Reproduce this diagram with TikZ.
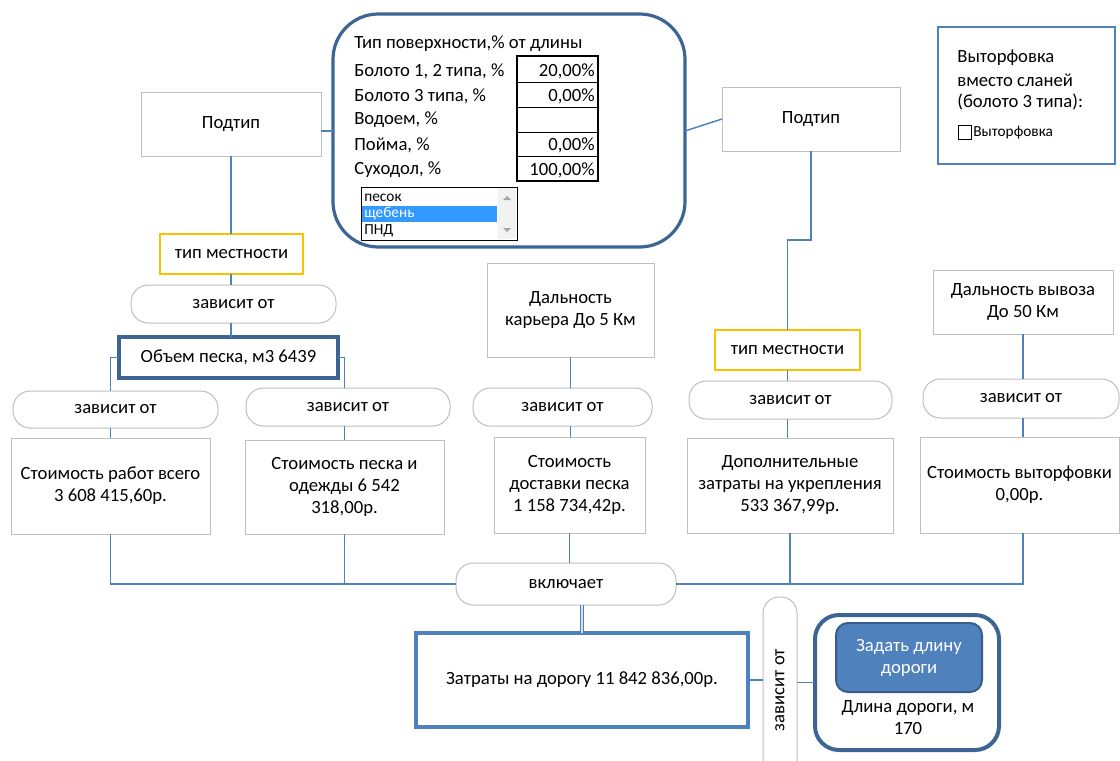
\documentclass[tikz,border=0pt]{standalone}
\usepackage{fontspec}
\setmainfont{Carlito}
\usetikzlibrary{calc}
\definecolor{connc}{HTML}{4F81BD}
\definecolor{dkblue}{HTML}{3D6594}
\definecolor{midblue}{HTML}{4F81BD}
\definecolor{gborder}{HTML}{BFBFBF}
\definecolor{yel}{HTML}{FFC000}
\definecolor{selblue}{HTML}{3399FF}
\definecolor{btnborder}{HTML}{385D8A}
\newcommand\pbox[7]{\node[#6,minimum width={(#4-#2)*0.75pt},minimum height={(#5-#3)*0.75pt}] (#1) at ({(#2+#4)/2},{(#3+#5)/2}) {#7};}
\begin{document}
\begin{tikzpicture}[x=0.75pt,y=-0.75pt,
  font=\fontsize{14}{16.5}\selectfont,
  every node/.style={inner sep=1pt,outer sep=0pt,align=center},
  gbox/.style={draw=gborder,line width=0.75pt,fill=white},
  pill/.style={draw=gborder,line width=0.75pt,fill=white,rounded corners=13pt},
  ybox/.style={draw=yel,line width=1.6pt,fill=white},
  cn/.style={draw=connc,line width=1.1pt},
  small/.style={font=\fontsize{11.5}{13}\selectfont},
  lbl/.style={anchor=west},
  val/.style={anchor=east}]
\useasboundingbox (0,0) rectangle (1120,760);

% big surface-type box
\pbox{big}{333}{14}{685}{247}{draw=dkblue,line width=2.4pt,fill=white,rounded corners=34pt}{}
\node[lbl] (t0) at (353,44) {Тип поверхности,\% от длины};
\node[lbl] (t1) at (353,71) {Болото 1, 2 типа, \%};
\node[lbl] (t2) at (353,96) {Болото 3 типа, \%};
\node[lbl] (t3) at (353,120) {Водоем, \%};
\node[lbl] (t4) at (353,145) {Пойма, \%};
\node[lbl] (t5) at (353,170) {Суходол, \%};
\draw[line width=0.75pt] (517,82) -- (598,82) (517,107) -- (598,107) (517,132) -- (598,132) (517,156) -- (598,156);
\draw[line width=1.5pt] (517,56) rectangle (598,181);
\node[val] (v1) at (596,71) {20,00\%};
\node[val] (v2) at (596,96) {0,00\%};
\node[val] (v4) at (596,145) {0,00\%};
\node[val] (v5) at (596,170) {100,00\%};
% listbox
\draw[line width=0.75pt,fill=white] (361,187) rectangle (517,240);
\fill[selblue] (362,206) rectangle (497,222);
\fill[gray!10] (498,188) rectangle (516,239);
\fill[gray!70] (503,200) -- (511,200) -- (507,196) -- cycle;
\fill[gray!70] (503,228) -- (511,228) -- (507,232) -- cycle;
\node[lbl,small] (li1) at (363,198) {песок};
\node[lbl,small,text=white] (li2) at (363,214) {щебень};
\node[lbl,small] (li3) at (363,231) {ПНД};

% right info box
\pbox{vbox}{938}{27}{1115}{164}{draw=midblue,line width=2.2pt,fill=white}{}
\node[lbl] (vt1) at (956,58) {Выторфовка};
\node[lbl] (vt2) at (956,80) {вместо сланей};
\node[lbl] (vt3) at (956,102) {(болото 3 типа):};
\draw[line width=0.6pt,fill=white] (958,125) rectangle (971,139);
\node[lbl,small] (cbl) at (972,132.5) {Выторфовка};

% left branch
\pbox{podL}{141}{92}{321}{156}{gbox}{Подтип}
\pbox{tipL}{160}{234}{303}{274}{ybox}{тип местности}
\pbox{p1}{131}{285}{336}{323}{pill}{зависит от}
\pbox{obem}{119}{337}{338}{378}{draw=dkblue,line width=2.4pt,fill=white}{Объем песка, м3 6439}
\pbox{pL}{13}{391}{218}{428}{pill}{зависит от}
\pbox{pR}{246}{388}{450}{426}{pill}{зависит от}
\pbox{bL}{11}{438}{210}{534}{gbox}{Стоимость работ всего\\3 608 415,60р.}
\pbox{bR}{245}{440}{444}{534}{gbox}{Стоимость песка и\\одежды 6 542\\318,00р.}

% middle
\pbox{dk}{487}{263}{654}{357}{gbox}{Дальность\\карьера До 5 Км}
\pbox{pK}{473}{388}{652}{426}{pill}{зависит от}
\pbox{dost}{494}{437}{645}{533}{gbox}{Стоимость\\доставки песка\\1 158 734,42р.}

% right branch
\pbox{podR}{722}{87}{900}{151}{gbox}{Подтип}
\pbox{tipR}{715}{330}{860}{370}{ybox}{тип местности}
\pbox{pD}{689}{381}{892}{419}{pill}{зависит от}
\pbox{dop}{687}{438}{893}{533}{gbox}{Дополнительные\\затраты на укрепления\\533 367,99р.}
\pbox{dv}{933}{270}{1113}{334}{gbox}{Дальность вывоза\\До 50 Км}
\pbox{pV}{923}{379}{1119}{418}{pill}{зависит от}
\pbox{vyt}{920}{437}{1119}{533}{gbox}{Стоимость выторфовки\\0,00р.}

% bottom
\pbox{vk}{456}{563}{676}{605}{pill}{включает}
\pbox{zat}{416}{633}{748}{727}{draw=midblue,line width=2.3pt,fill=white}{Затраты на дорогу 11 842 836,00р.}
\node[pill,rotate=90,rounded corners=12pt,minimum width={186*0.75pt},minimum height={34*0.75pt}] (vp) at (780,690) {зависит от};
\pbox{dl}{815}{615}{999}{750}{draw=dkblue,line width=3pt,fill=white,rounded corners=18pt}{}
\pbox{btn}{836}{623}{982}{692}{draw=btnborder,line width=1.5pt,fill=midblue,rounded corners=9pt,text=white}{Задать длину\\дороги}
\node (dltext) at (908,718) {Длина дороги, м\\170};

% connectors
\coordinate (bend) at (800,240);
\draw[cn] (podL.south) -- (podL.south |- tipL.north);
\draw[cn] (podL.south |- tipL.south) -- (podL.south |- p1.north);
\draw[cn] (podL.south |- p1.south) -- (podL.south |- obem.north);
\draw[cn] (obem.west) -| (bL.north |- pL.north);
\draw[cn] (pL.south -| bL.north) -- (bL.north);
\draw[cn] (obem.east) -| (bR.north |- pR.north);
\draw[cn] (pR.south -| bR.north) -- (bR.north);
\draw[cn] (bL.south) |- (vk.west);
\draw[cn] (bR.south) -- (bR.south |- vk.west);
\draw[cn] (dk.south) -- (dk.south |- pK.north);
\draw[cn] (dk.south |- pK.south) -- (dk.south |- dost.north);
\draw[cn] (dost.south) -- (dost.south |- vk.north);
\draw[cn] (podR.south) |- (bend) -| (tipR.north);
\draw[cn] (tipR.south) -- (tipR.south |- pD.north);
\draw[cn] (tipR.south |- pD.south) -- (tipR.south |- dop.north);
\draw[cn] (dop.south) -- (dop.south |- vk.east);
\draw[cn] (dv.south) -- (dv.south |- pV.north);
\draw[cn] (dv.south |- pV.south) -- (dv.south |- vyt.north);
\draw[cn] (vk.east) -| (dv.south |- vyt.south);
\draw[cn] (big.west |- 0,131) -- (podL.east |- 0,131);
\draw[cn] (big.east |- 0,131) -- (podR.west |- 0,119);
\draw[draw=connc,line width=0.9pt,double=gray!25,double distance=1.5pt] (zat.north |- vk.south) -- (zat.north);
\draw[cn] (zat.east) -- (zat.east -| vp.north);
\draw[cn] (vp.south |- dl.west) -- (dl.west);
\end{tikzpicture}
\end{document}
